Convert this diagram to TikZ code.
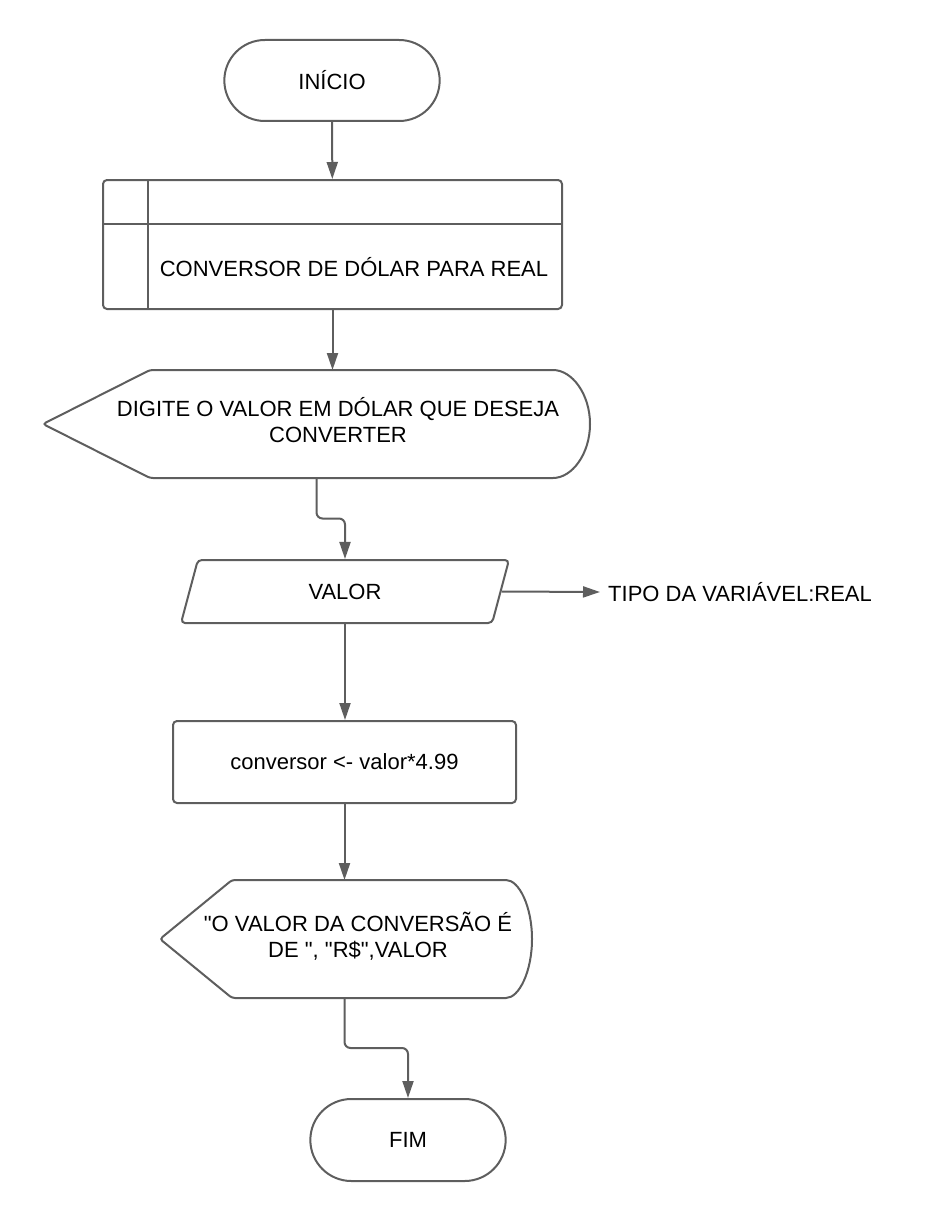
\documentclass[tikz,border=0pt]{standalone}
\usepackage{fontspec}
\setmainfont{Liberation Sans}
\usetikzlibrary{shapes.misc,shapes.geometric,arrows.meta,calc}
\definecolor{linegray}{RGB}{94,94,94}

\begin{document}
\begin{tikzpicture}[x=1pt, y=-1pt, font=\fontsize{22}{26}\selectfont,
	line/.style={draw=linegray, line width=2pt},
	flow/.style={line, -{Triangle[length=17pt, width=11pt]}},
	box/.style={line, rounded corners=4pt, align=center, inner sep=0pt},
	terminal/.style={line, rounded rectangle, minimum height=81pt},
	io/.style={box, trapezium, trapezium left angle=75, trapezium right angle=105, trapezium stretches=true},
	blank/.style={inner sep=0pt, outer sep=0pt},
	txt/.style={align=center, inner sep=0pt}]
	\useasboundingbox (0,0) rectangle (940,1220);

	\node[terminal, minimum width=222pt] (inicio) at (332,80.5) {INÍCIO};
	\node[box, minimum width=459pt, minimum height=129pt] (sub) at (332.5,244.5) {};
	\node[txt] (subtxt) at (354,267) {CONVERSOR DE DÓLAR PARA REAL};
	\draw[line] ([xshift=46pt]sub.north west) -- ([xshift=46pt]sub.south west);
	\draw[line] ([yshift=-45pt]sub.north west) -- ([yshift=-45pt]sub.north east);

	\node[blank, minimum width=547pt, minimum height=108pt] (leitura) at (316.5,424) {};
	\draw[line, rounded corners=3pt] (leitura.west) -- ([xshift=107pt]leitura.north west)
		-- ([xshift=-40pt]leitura.north east) arc[start angle=90, end angle=-90, x radius=40pt, y radius=54pt]
		-- ([xshift=107pt]leitura.south west) -- cycle;
	\node[txt] (leituratxt) at (338,420.5) {DIGITE O VALOR EM DÓLAR QUE DESEJA\\CONVERTER};

	\node[io, minimum width=328pt, minimum height=63pt] (valor) at (345,591.5) {VALOR};
	\node[txt, anchor=west, inner sep=8pt] (tipo) at (600,592) {TIPO DA VARIÁVEL:REAL};

	\node[box, minimum width=343pt, minimum height=82pt] (calc) at (344.5,762) {conversor <- valor*4.99};

	\node[blank, minimum width=372pt, minimum height=118pt] (saida) at (346,939) {};
	\draw[line, rounded corners=3pt] (saida.west) -- ([xshift=72pt]saida.north west)
		-- ([xshift=-29pt]saida.north east) arc[start angle=90, end angle=-90, x radius=29pt, y radius=59pt]
		-- ([xshift=72pt]saida.south west) -- cycle;
	\node[txt] (saidatxt) at (358,936) {\textquotedbl O VALOR DA CONVERSÃO É\\DE \textquotedbl, \textquotedbl R\$\textquotedbl,VALOR};

	\node[terminal, minimum width=202pt, minimum height=82pt] (fim) at (408,1140) {FIM};

	\draw[flow] (inicio) -- (sub);
	\draw[flow] (sub.south) -- (sub.south |- leitura.north);
	\draw[flow, rounded corners=6pt] (leitura.south) |- ($(leitura.south)!.5!(valor.north)$) -| (valor.north);
	\draw[flow] (valor.east) -- (tipo.west);
	\draw[flow] (valor.south) -- (valor.south |- calc.north);
	\draw[flow] (calc.south) -- (calc.south |- saida.north);
	\draw[flow, rounded corners=6pt] (calc.south |- saida.south) |- ($(saida.south)!.5!(fim.north)$) -| (fim.north);
\end{tikzpicture}
\end{document}
